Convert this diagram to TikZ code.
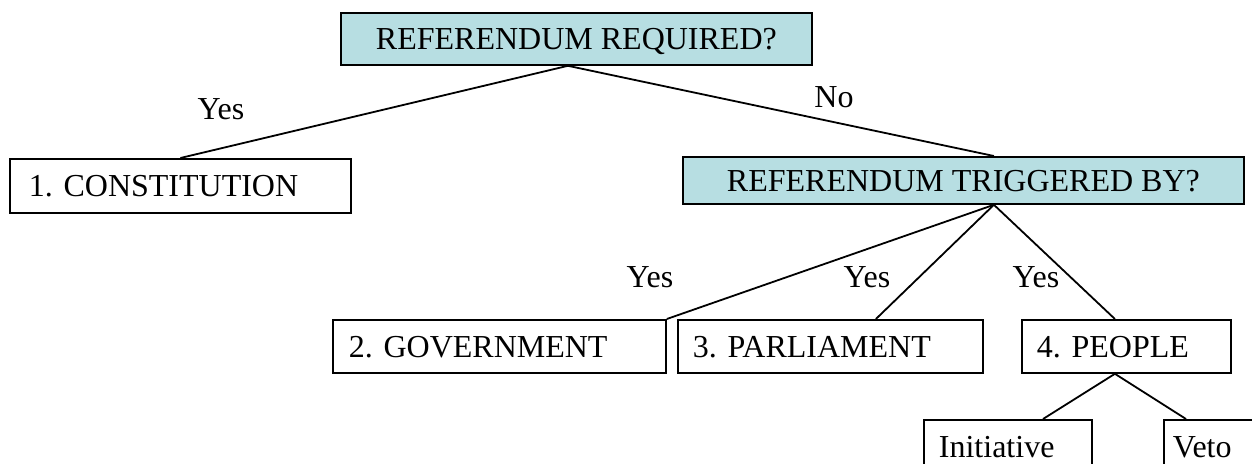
\documentclass[tikz,border=0pt]{standalone}
\usepackage{fontspec}
\setmainfont{Liberation Serif}
\frenchspacing
\definecolor{qblue}{RGB}{183,222,226}
\begin{document}
\begin{tikzpicture}[x=1pt,y=-1pt,
  every node/.style={font=\fontsize{32}{38}\selectfont, text height=21.2pt, text depth=0pt},
  qbox/.style={draw, line width=1.8pt, fill=qblue, inner sep=0pt, anchor=north west, align=center},
  abox/.style={draw, line width=1.8pt, fill=white, inner ysep=0pt, anchor=north west, align=left},
  link/.style={line width=1.8pt},
  lab/.style={inner sep=0pt}]
\useasboundingbox (0,0) rectangle (1252,463);
\clip (0,0) rectangle (1252,463);
% question boxes
\node[qbox, minimum width=471pt, minimum height=52pt] (top) at (340,12) {REFERENDUM REQUIRED?};
\node[qbox, minimum width=561pt, minimum height=47pt] (trig) at (682,156) {REFERENDUM TRIGGERED BY?};
% answer boxes
\node[abox, inner xsep=19pt, text width=303pt, minimum height=54pt] (con) at (9,158) {1. CONSTITUTION};
\node[abox, inner xsep=16pt, text width=301pt, minimum height=53pt] (gov) at (332,319) {2. GOVERNMENT};
\node[abox, inner xsep=15pt, text width=275pt, minimum height=53pt] (par) at (677,319) {3. PARLIAMENT};
\node[abox, inner xsep=15pt, text width=179pt, minimum height=53pt] (peo) at (1021,319) {4. PEOPLE};
\node[abox, inner xsep=15pt, text width=138pt, minimum height=53pt] (ini) at (923,419) {Initiative};
\node[abox, inner xsep=9pt, text width=149pt, minimum height=53pt] (veto) at (1163,419) {Veto};
% connectors
\draw[link] ([xshift=-8.5pt]top.south) -- (con.north);
\draw[link] ([xshift=-8.5pt]top.south) -- ([xshift=30.5pt]trig.north);
\draw[link] ([xshift=30.5pt]trig.south) -- (gov.north east);
\draw[link] ([xshift=30.5pt]trig.south) -- ([xshift=45.5pt]par.north);
\draw[link] ([xshift=30.5pt]trig.south) -- ([xshift=-11.5pt]peo.north);
\draw[link] ([xshift=-11.5pt]peo.south) -- ([xshift=120pt]ini.north west);
\draw[link] ([xshift=-11.5pt]peo.south) -- ([xshift=23pt]veto.north west);
% labels
\node[lab] (l1) at (221,109) {Yes};
\node[lab] (l2) at (834,97) {No};
\node[lab] (l3) at (650,277) {Yes};
\node[lab] (l4) at (867,277) {Yes};
\node[lab] (l5) at (1036,277) {Yes};
\end{tikzpicture}
\end{document}
